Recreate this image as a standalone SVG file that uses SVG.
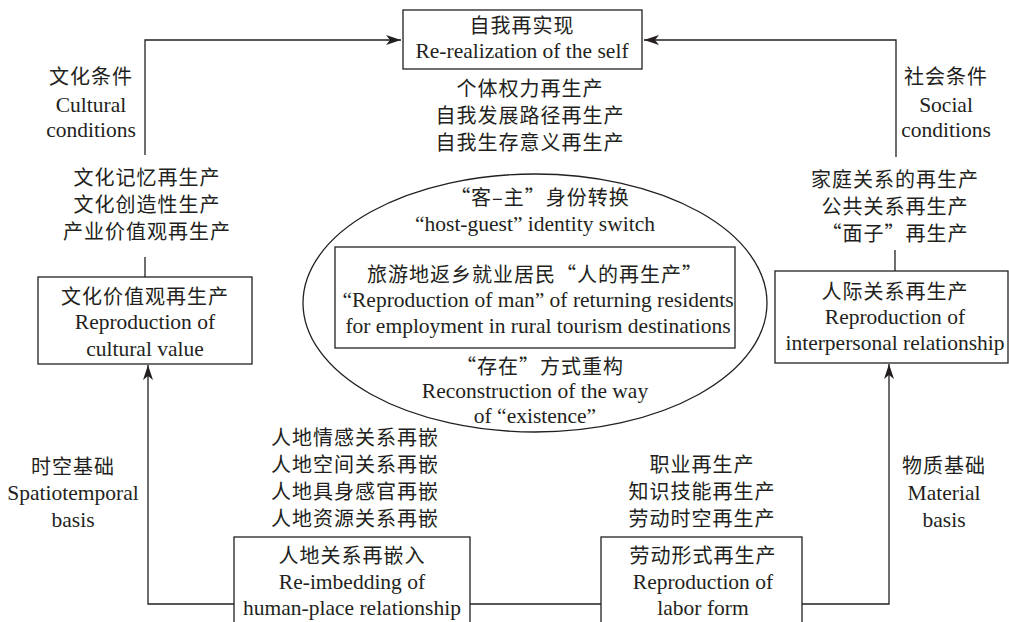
<svg xmlns="http://www.w3.org/2000/svg" width="1009" height="622" viewBox="0 0 1009 622">
<defs>
<marker id="arr" markerUnits="userSpaceOnUse" markerWidth="16" markerHeight="12" viewBox="0 0 16 12" refX="15" refY="6" orient="auto">
<path d="M0,1 L15,6 L0,11 L4,6 z" fill="#231f20"/>
</marker>
</defs>
<style>
text{fill:#231f20;text-anchor:middle;font-size:21.5px}
.cn{font-family:"Noto Sans CJK SC","Noto Sans CJK JP",sans-serif;font-size:20px;letter-spacing:1px}
.en{font-family:"Liberation Serif","Times New Roman",serif}
.box{fill:#fff;stroke:#231f20;stroke-width:1.3}
.ln{fill:none;stroke:#231f20;stroke-width:1.3}
</style>
<rect width="1009" height="622" fill="#fff"/>
<g id="connectors">
<polyline class="ln" points="145,155 145,40 401,40" marker-end="url(#arr)"/>
<polyline class="ln" points="896,157 896,40 644,40" marker-end="url(#arr)"/>
<line class="ln" x1="145" y1="257" x2="145" y2="277"/>
<line class="ln" x1="895" y1="250" x2="895" y2="271"/>
<polyline class="ln" points="234,604 148,604 148,365" marker-end="url(#arr)"/>
<line class="ln" x1="470" y1="604" x2="601" y2="604"/>
<polyline class="ln" points="802,604 889,604 889,364" marker-end="url(#arr)"/>
</g>
<g id="self">
<rect class="box" x="403" y="10" width="239" height="59"/>
<text class="cn" x="522" y="33">自我再实现</text>
<text class="en" x="522" y="58">Re-realization of the self</text>
</g>
<g id="self-labels">
<text class="cn" x="530" y="96">个体权力再生产</text>
<text class="cn" x="530" y="123">自我发展路径再生产</text>
<text class="cn" x="530" y="150">自我生存意义再生产</text>
</g>
<g id="cultural-cond">
<text class="cn" x="91" y="84">文化条件</text>
<text class="en" x="91" y="112">Cultural</text>
<text class="en" x="91" y="137">conditions</text>
</g>
<g id="social-cond">
<text class="cn" x="946" y="84">社会条件</text>
<text class="en" x="946" y="112">Social</text>
<text class="en" x="946" y="137">conditions</text>
</g>
<g id="cultural-labels">
<text class="cn" x="147" y="185">文化记忆再生产</text>
<text class="cn" x="147" y="212">文化创造性生产</text>
<text class="cn" x="147" y="239">产业价值观再生产</text>
</g>
<g id="cultural">
<rect class="box" x="38" y="277" width="214" height="87"/>
<text class="cn" x="145" y="304">文化价值观再生产</text>
<text class="en" x="145" y="329">Reproduction of</text>
<text class="en" x="145" y="356">cultural value</text>
</g>
<g id="social-labels">
<text class="cn" x="895" y="187">家庭关系的再生产</text>
<text class="cn" x="895" y="214">公共关系再生产</text>
<text class="cn" x="895" y="241">“面子”再生产</text>
</g>
<g id="interpersonal">
<rect class="box" x="775" y="271" width="233" height="92"/>
<text class="cn" x="895" y="299">人际关系再生产</text>
<text class="en" x="895" y="324">Reproduction of</text>
<text class="en" x="895" y="350">interpersonal relationship</text>
</g>
<g id="center">
<ellipse class="ln" cx="535" cy="303" rx="232" ry="129"/>
<text class="cn" x="540" y="205">“客–主”身份转换</text>
<text class="en" x="535" y="231">“host-guest” identity switch</text>
<rect class="box" x="335" y="247" width="400" height="101"/>
<text class="cn" x="535" y="282">旅游地返乡就业居民“人的再生产”</text>
<text class="en" x="538" y="307">“Reproduction of man” of returning residents</text>
<text class="en" x="538" y="333">for employment in rural tourism destinations</text>
<text class="cn" x="540" y="374">“存在”方式重构</text>
<text class="en" x="535" y="398">Reconstruction of the way</text>
<text class="en" x="535" y="423">of “existence”</text>
</g>
<g id="spatio">
<text class="cn" x="73" y="474">时空基础</text>
<text class="en" x="73" y="500">Spatiotemporal</text>
<text class="en" x="73" y="527">basis</text>
</g>
<g id="material">
<text class="cn" x="944" y="473">物质基础</text>
<text class="en" x="944" y="500">Material</text>
<text class="en" x="944" y="527">basis</text>
</g>
<g id="place-labels">
<text class="cn" x="355" y="445">人地情感关系再嵌</text>
<text class="cn" x="355" y="472">人地空间关系再嵌</text>
<text class="cn" x="355" y="499">人地具身感官再嵌</text>
<text class="cn" x="355" y="526">人地资源关系再嵌</text>
</g>
<g id="place">
<rect class="box" x="234" y="537" width="236" height="90"/>
<text class="cn" x="352" y="563">人地关系再嵌入</text>
<text class="en" x="352" y="589">Re-imbedding of</text>
<text class="en" x="352" y="615">human-place relationship</text>
</g>
<g id="labor-labels">
<text class="cn" x="702" y="472">职业再生产</text>
<text class="cn" x="702" y="499">知识技能再生产</text>
<text class="cn" x="702" y="526">劳动时空再生产</text>
</g>
<g id="labor">
<rect class="box" x="601" y="537" width="201" height="90"/>
<text class="cn" x="703" y="563">劳动形式再生产</text>
<text class="en" x="703" y="589">Reproduction of</text>
<text class="en" x="703" y="615">labor form</text>
</g>
</svg>
